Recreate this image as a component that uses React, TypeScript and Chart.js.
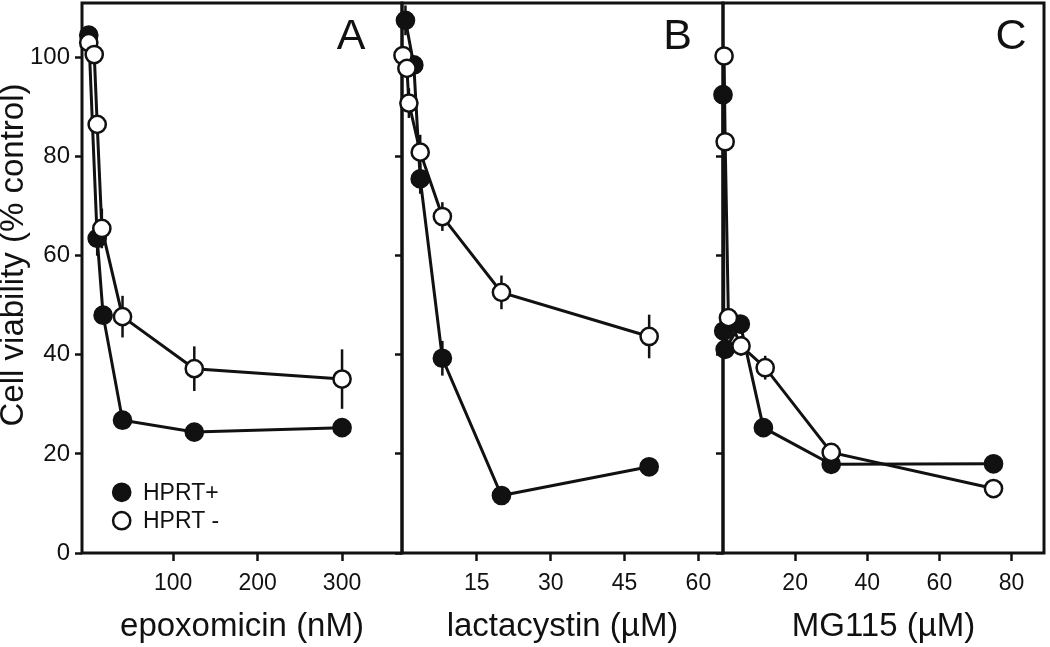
import React, { useEffect, useRef } from "react";
import { Chart, registerables } from "chart.js";

Chart.register(...registerables);

const FONT = "'Liberation Sans', Arial, Helvetica, sans-serif";
const INK = "#111111";

const SERIES_LABELS = ["HPRT+", "HPRT -"];
const Y_TICKS = [0, 20, 40, 60, 80, 100];
const Y_TITLE = "Cell viability (% control)";

// Panel A: epoxomicin (nM)
const epoxPosX = [0, 10, 17, 40, 125, 300];
const epoxPosY = [104.5, 63.5, 48, 26.8, 24.4, 25.3];
const epoxPosErr = [0, 3.5, 0, 0, 0, 0];
const epoxNegX = [0, 6.5, 10, 15.5, 40, 125, 300];
const epoxNegY = [103, 100.6, 86.5, 65.5, 47.7, 37.2, 35.1];
const epoxNegErr = [0, 0, 0, 4, 4.2, 4.5, 6];
const epoxTicks = [100, 200, 300];

// Panel B: lactacystin (µM)
const lactPosX = [0.5, 2.2, 3.5, 8, 20, 50];
const lactPosY = [107.5, 98.5, 75.5, 39.3, 11.6, 17.4];
const lactPosErr = [3, 0, 3, 3.5, 0, 0];
const lactNegX = [0, 0.8, 1.2, 3.5, 8, 20, 50];
const lactNegY = [100.4, 97.8, 90.8, 80.9, 67.9, 52.6, 43.7];
const lactNegErr = [0, 0, 3, 3.5, 2.9, 3.4, 4.4];
const lactTicks = [15, 30, 45, 60];

// Panel C: MG115 (µM)
const mgPosX = [0, 0.2, 0.6, 4.8, 11.2, 30, 75];
const mgPosY = [92.5, 44.8, 41.1, 46.2, 25.3, 17.9, 18];
const mgPosErr = [0, 0, 0, 0, 0, 0, 0];
const mgNegX = [0.3, 0.6, 1.5, 5, 11.7, 30, 75];
const mgNegY = [100.3, 83, 47.5, 41.8, 37.4, 20.3, 13];
const mgNegErr = [0, 0, 0, 2, 2.4, 0, 0];
const mgTicks = [20, 40, 60, 80];

const PANELS = [
  {
    key: "A", letter: "A", xTitle: "epoxomicin (nM)",
    posX: epoxPosX, posY: epoxPosY, posErr: epoxPosErr,
    negX: epoxNegX, negY: epoxNegY, negErr: epoxNegErr,
    ticks: epoxTicks, xMin: -8, xMax: 371,
    left: 0, width: 410, yWidth: 82, padRight: 8,
    showYLabels: true, legend: true, yTitle: true, letterDx: 51,
  },
  {
    key: "B", letter: "B", xTitle: "lactacystin (\u00B5M)",
    posX: lactPosX, posY: lactPosY, posErr: lactPosErr,
    negX: lactNegX, negY: lactNegY, negErr: lactNegErr,
    ticks: lactTicks, xMin: -0.2, xMax: 65,
    left: 386, width: 345, yWidth: 16, padRight: 8,
    showYLabels: false, legend: false, yTitle: false, letterDx: 45.5,
  },
  {
    key: "C", letter: "C", xTitle: "MG115 (\u00B5M)",
    posX: mgPosX, posY: mgPosY, posErr: mgPosErr,
    negX: mgNegX, negY: mgNegY, negErr: mgNegErr,
    ticks: mgTicks, xMin: 0, xMax: 89,
    left: 707, width: 343, yWidth: 16, padRight: 6,
    showYLabels: false, legend: false, yTitle: false, letterDx: 33,
  },
];

const decoPlugin = {
  id: "deco",
  beforeDatasetsDraw(chart: any) {
    const { ctx, chartArea: a, scales } = chart;
    ctx.save();
    ctx.strokeStyle = INK;
    ctx.lineWidth = 3;
    ctx.strokeRect(a.left, a.top, a.right - a.left, a.bottom - a.top);
    ctx.lineWidth = 2.5;
    chart.data.datasets.forEach((ds: any) => {
      const errs = ds.errors;
      if (!errs) return;
      ds.data.forEach((p: any, i: number) => {
        const e = errs[i];
        if (!e) return;
        const x = scales.x.getPixelForValue(p.x);
        ctx.beginPath();
        ctx.moveTo(x, scales.y.getPixelForValue(p.y - e));
        ctx.lineTo(x, scales.y.getPixelForValue(p.y + e));
        ctx.stroke();
      });
    });
    ctx.restore();
  },
  afterDraw(chart: any, _args: any, opts: any) {
    const { ctx, chartArea: a } = chart;
    ctx.save();
    ctx.fillStyle = INK;
    ctx.font = `43px ${FONT}`;
    ctx.textAlign = "center";
    ctx.textBaseline = "middle";
    ctx.fillText(opts.letter, a.right - opts.letterDx, a.top + 34.5);
    if (opts.legend) {
      ctx.font = `23px ${FONT}`;
      ctx.textAlign = "left";
      chart.data.datasets.forEach((ds: any, i: number) => {
        const cx = a.left + 39.7;
        const cy = a.bottom - 60.7 + i * 28.4;
        ctx.beginPath();
        ctx.arc(cx, cy, 8.6, 0, Math.PI * 2);
        ctx.fillStyle = ds.pointBackgroundColor;
        ctx.fill();
        ctx.lineWidth = 2.5;
        ctx.strokeStyle = ds.pointBorderColor;
        ctx.stroke();
        ctx.fillStyle = INK;
        ctx.fillText(ds.label, cx + 21.3, cy + 1);
      });
    }
    if (opts.yTitle) {
      ctx.save();
      ctx.translate(14, 255);
      ctx.rotate(-Math.PI / 2);
      ctx.font = `33px ${FONT}`;
      ctx.textAlign = "center";
      ctx.textBaseline = "middle";
      ctx.fillStyle = INK;
      ctx.fillText(Y_TITLE, 0, 0);
      ctx.restore();
    }
    ctx.restore();
  },
};

const zeroPad = (s: any) => {
  s.paddingTop = 0;
  s.paddingBottom = 0;
  s.paddingLeft = 0;
  s.paddingRight = 0;
};

function PanelChart({ cfg }: { cfg: any }) {
  const ref = useRef<HTMLCanvasElement | null>(null);
  useEffect(() => {
    if (!ref.current) return;
    const mk = (xs: number[], ys: number[]) => xs.map((x, i) => ({ x, y: ys[i] }));
    const chart = new Chart(ref.current, {
      type: "line",
      data: {
        datasets: [
          {
            label: SERIES_LABELS[0],
            data: mk(cfg.posX, cfg.posY),
            errors: cfg.posErr,
            borderColor: INK,
            backgroundColor: INK,
            pointBackgroundColor: INK,
            pointBorderColor: INK,
            pointRadius: 8.6,
            pointBorderWidth: 2.5,
            borderWidth: 3,
            tension: 0,
            clip: false,
            order: 2,
          } as any,
          {
            label: SERIES_LABELS[1],
            data: mk(cfg.negX, cfg.negY),
            errors: cfg.negErr,
            borderColor: INK,
            backgroundColor: "#ffffff",
            pointBackgroundColor: "#ffffff",
            pointBorderColor: INK,
            pointRadius: 8.6,
            pointBorderWidth: 2.5,
            borderWidth: 3,
            tension: 0,
            clip: false,
            order: 1,
          } as any,
        ],
      },
      options: {
        responsive: false,
        maintainAspectRatio: false,
        animation: false,
        devicePixelRatio: 1,
        events: [],
        layout: { autoPadding: false, padding: { top: 3, right: cfg.padRight, bottom: 0, left: 0 } },
        plugins: {
          legend: { display: false },
          tooltip: { enabled: false },
          deco: { letter: cfg.letter, letterDx: cfg.letterDx, legend: cfg.legend, yTitle: cfg.yTitle },
        } as any,
        scales: {
          x: {
            type: "linear",
            min: cfg.xMin,
            max: cfg.xMax,
            afterBuildTicks: (s: any) => {
              s.ticks = cfg.ticks.map((v: number) => ({ value: v }));
            },
            afterFit: (s: any) => {
              s.height = 94;
              zeroPad(s);
            },
            grid: { display: true, drawOnChartArea: false, drawTicks: true, tickLength: 8, tickWidth: 2.5, tickColor: INK },
            border: { display: false },
            ticks: { font: { family: FONT, size: 23 }, color: INK, padding: 9, maxRotation: 0, autoSkip: false },
            title: { display: true, text: cfg.xTitle, font: { family: FONT, size: 33 }, color: INK, padding: { top: 0, bottom: 0 } },
          },
          y: {
            type: "linear",
            min: 0,
            max: 111,
            afterBuildTicks: (s: any) => {
              s.ticks = Y_TICKS.map((v) => ({ value: v }));
            },
            afterFit: (s: any) => {
              s.width = cfg.yWidth;
              zeroPad(s);
            },
            grid: { display: true, drawOnChartArea: false, drawTicks: true, tickLength: 7, tickWidth: 2.5, tickColor: INK },
            border: { display: false },
            ticks: { display: cfg.showYLabels, font: { family: FONT, size: 24 }, color: INK, padding: 5 },
          },
        },
      } as any,
      plugins: [decoPlugin as any],
    });
    return () => chart.destroy();
  }, [cfg]);
  return (
    <canvas
      ref={ref}
      width={cfg.width}
      height={647}
      style={{ position: "absolute", left: cfg.left, top: 0, width: cfg.width, height: 647 }}
    />
  );
}

export default function App() {
  return (
    <div style={{ position: "fixed", left: 0, top: 0, width: 1050, height: 647, background: "#ffffff", overflow: "hidden" }}>
      {PANELS.map((p) => (
        <PanelChart key={p.key} cfg={p} />
      ))}
    </div>
  );
}
